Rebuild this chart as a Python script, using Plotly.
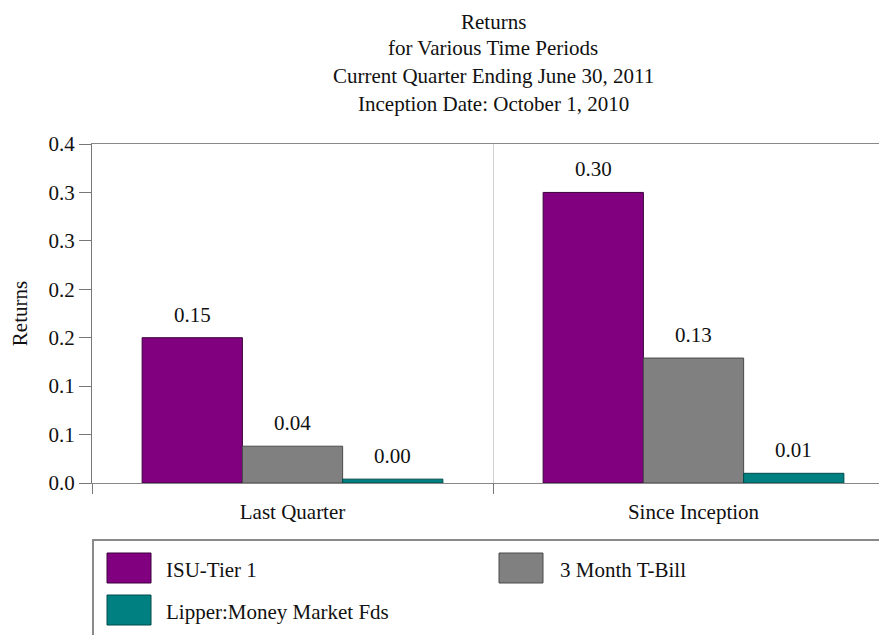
import plotly.graph_objects as go

# ---- data ----
categories = ["Last Quarter", "Since Inception"]
series_names = ["ISU-Tier 1", "3 Month T-Bill", "Lipper:Money Market Fds"]
isu_tier1 = [0.150, 0.300]
tbill_3m = [0.038, 0.129]
lipper_mm = [0.004, 0.010]
series_values = [isu_tier1, tbill_3m, lipper_mm]
series_colors = ["#800080", "#808080", "#008080"]
outline_colors = ["#3c003c", "#4a4a4a", "#004a4a"]
y_tickvals = [0.0, 0.05, 0.10, 0.15, 0.20, 0.25, 0.30, 0.35]
y_ticktext = ["0.0", "0.1", "0.1", "0.2", "0.2", "0.3", "0.3", "0.4"]
title_lines = [
    "Returns",
    "for Various Time Periods",
    "Current Quarter Ending June 30, 2011",
    "Inception Date: October 1, 2010",
]

FONT = "Liberation Serif, Times New Roman, serif"
FS = 21

# page body has an 8px margin; compensate so the picture lands where the reference is
OFF = 8
W, H = 887 - OFF, 635 - OFF
# target pixel geometry (window coordinates)
PL, PT, PB = 92, 144, 483
ML, MT = PL - OFF, PT - OFF
MB = H - (PB - OFF)
MR = 0
plot_w = W - ML - MR
plot_h = H - MT - MB
cat_px = 401.0
x_range = [-0.5, -0.5 + plot_w / cat_px]
bargap = 0.25
bar_px = cat_px * (1 - bargap) / 3


def py(px):  # window pixel y -> paper y
    return (PB - px) / plot_h


def pxx(px):  # window pixel x -> paper x
    return (px - PL) / plot_w


fig = go.Figure()
for name, vals, col, ocol in zip(series_names, series_values, series_colors, outline_colors):
    fig.add_trace(go.Bar(
        x=categories, y=vals, name=name,
        marker=dict(color=col, line=dict(color=ocol, width=1)),
        showlegend=False,
    ))

annotations = []
# value labels above bars
for i, vals in enumerate(series_values):
    for c, v in zip(categories, vals):
        annotations.append(dict(
            x=c, y=v, xref="x", yref="y", text=f"{v:.2f}",
            showarrow=False, xshift=(i - 1) * bar_px, yshift=23,
            yanchor="middle", xanchor="center",
            font=dict(family=FONT, size=FS, color="#111"),
        ))

# title lines
title_y = [22, 48, 76, 104]
for t, yy in zip(title_lines, title_y):
    annotations.append(dict(
        x=pxx(493), y=py(yy), xref="paper", yref="paper", text=t,
        showarrow=False, xanchor="center", yanchor="middle", borderpad=0,
        font=dict(family=FONT, size=FS, color="#111"),
    ))

# legend (manual box)
shapes = [dict(type="rect", xref="paper", yref="paper",
               x0=pxx(93), x1=pxx(900), y0=py(540), y1=py(645),
               line=dict(color="#8a8a8a", width=2), fillcolor="rgba(0,0,0,0)")]
legend_pos = [(107, 553, 164), (499, 553, 558), (107, 595, 164)]
for name, col, ocol, (sx, sy, tx) in zip(series_names, series_colors, outline_colors, legend_pos):
    shapes.append(dict(type="rect", xref="paper", yref="paper",
                       x0=pxx(sx), x1=pxx(sx + 44), y0=py(sy), y1=py(sy + 30),
                       fillcolor=col, line=dict(color=ocol, width=1)))
    annotations.append(dict(
        x=pxx(tx), y=py(sy + 17), xref="paper", yref="paper", text=name,
        showarrow=False, xanchor="left", yanchor="middle",
        font=dict(family=FONT, size=FS, color="#111"),
    ))

fig.update_layout(
    width=W, height=H,
    margin=dict(l=ML, r=MR, t=MT, b=MB, pad=0),
    paper_bgcolor="white", plot_bgcolor="white",
    barmode="group", bargap=bargap, bargroupgap=0,
    font=dict(family=FONT, size=FS, color="#111"),
    annotations=annotations, shapes=shapes,
    showlegend=False,
)
fig.update_xaxes(
    type="category", range=x_range,
    tickson="boundaries", ticks="outside", ticklen=10, tickcolor="#777", tickwidth=1,
    showline=True, linecolor="#888", linewidth=1, mirror=True,
    showgrid=True, gridcolor="#d0d0d0", gridwidth=1,
    tickfont=dict(family=FONT, size=FS, color="#111"),
    ticklabelstandoff=10,
)
fig.update_yaxes(
    range=[0, 0.35], tickvals=y_tickvals, ticktext=y_ticktext,
    ticks="outside", ticklen=12, tickcolor="#777", tickwidth=1,
    showline=True, linecolor="#777", linewidth=1,
    showgrid=False, zeroline=False,
    tickfont=dict(family=FONT, size=FS, color="#111"),
    title=dict(text="Returns", font=dict(family=FONT, size=FS, color="#111"), standoff=20),
)

fig.write_html("out.html")
